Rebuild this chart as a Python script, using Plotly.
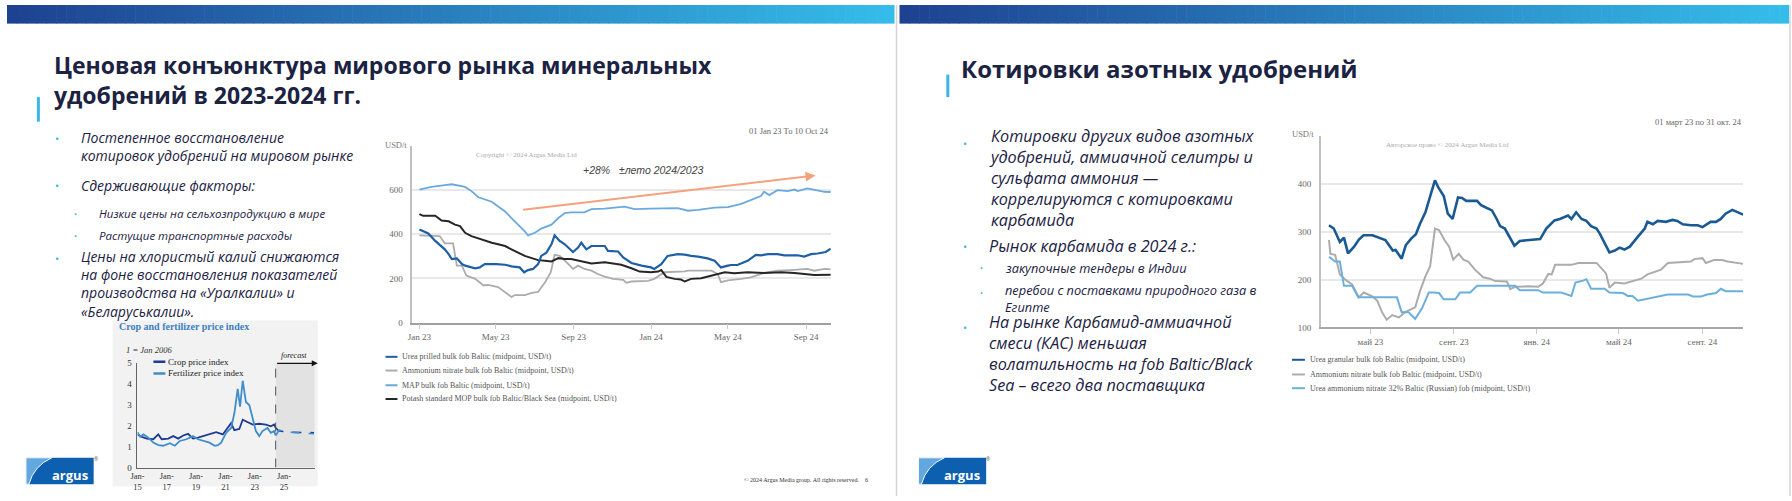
import plotly.graph_objects as go

W, H = 1792, 501

# ---------------- DATA ----------------
# Chart 1 (01 Jan 23 To 10 Oct 24), USD/t
urea_prilled_dates = ["2023-01-01","2023-01-15","2023-01-26","2023-02-10","2023-02-16","2023-02-21","2023-03-01","2023-03-09","2023-03-14","2023-03-30","2023-04-06","2023-04-14","2023-05-02","2023-05-16","2023-05-26","2023-06-08","2023-06-15","2023-06-21","2023-06-29","2023-07-07","2023-07-12","2023-07-20","2023-07-28","2023-08-02","2023-08-10","2023-08-18","2023-08-31","2023-09-08","2023-09-13","2023-09-21","2023-09-29","2023-10-20","2023-10-25","2023-11-10","2023-11-18","2023-12-01","2023-12-17","2024-01-01","2024-01-06","2024-01-17","2024-01-27","2024-02-12","2024-02-23","2024-03-04","2024-03-15","2024-03-30","2024-04-10","2024-04-20","2024-05-01","2024-05-06","2024-05-16","2024-06-01","2024-06-14","2024-06-22","2024-07-03","2024-07-18","2024-07-29","2024-08-19","2024-08-29","2024-09-09","2024-09-19","2024-10-02","2024-10-10"]
urea_prilled_vals = [422,404,370,332,310,288,291,265,258,246,250,265,265,262,255,250,228,238,243,265,302,317,355,395,370,355,320,340,362,332,347,347,325,322,295,270,258,250,243,265,302,310,308,302,299,291,280,250,258,261,261,280,307,305,310,310,305,305,299,310,313,320,335]

an1_dates = ["2023-01-01","2023-01-20","2023-02-02","2023-02-10","2023-02-23","2023-03-01","2023-03-09","2023-03-16","2023-03-30","2023-04-12","2023-04-19","2023-05-05","2023-05-16","2023-05-26","2023-05-31","2023-06-16","2023-06-27","2023-07-07","2023-07-18","2023-07-27","2023-08-02","2023-08-10","2023-08-21","2023-08-31","2023-09-08","2023-09-18","2023-09-29","2023-10-09","2023-10-20","2023-11-02","2023-11-18","2023-11-23","2023-12-01","2023-12-27","2024-01-06","2024-01-14","2024-01-22","2024-02-23","2024-02-28","2024-04-05","2024-04-15","2024-04-20","2024-05-01","2024-05-22","2024-06-06","2024-06-27","2024-07-18","2024-08-08","2024-09-03","2024-09-14","2024-09-30","2024-10-10"]
an1_vals = [395,395,392,359,359,258,258,213,198,168,171,161,139,116,124,124,134,139,183,228,307,302,273,243,258,243,235,220,208,198,194,180,186,189,198,213,228,232,235,235,220,183,191,198,205,225,235,238,243,235,243,241]

map_dates = ["2023-01-01","2023-01-20","2023-02-10","2023-02-21","2023-03-14","2023-03-24","2023-04-04","2023-04-14","2023-04-25","2023-05-05","2023-05-16","2023-05-26","2023-06-06","2023-06-16","2023-06-21","2023-07-02","2023-07-12","2023-07-23","2023-07-28","2023-08-08","2023-08-18","2023-08-28","2023-09-18","2023-09-29","2023-10-20","2023-11-20","2023-12-06","2023-12-31","2024-01-22","2024-02-12","2024-02-28","2024-03-15","2024-04-10","2024-05-01","2024-05-22","2024-06-06","2024-06-22","2024-06-27","2024-07-05","2024-07-18","2024-08-03","2024-08-14","2024-08-19","2024-09-03","2024-09-19","2024-09-30","2024-10-10"]
map_vals = [603,615,623,627,615,596,568,559,548,526,504,474,444,414,395,407,426,440,444,474,496,500,500,514,517,526,514,517,519,519,507,511,521,523,538,556,574,593,578,600,596,603,596,608,600,593,592]

potash_dates = ["2023-01-01","2023-01-07","2023-01-26","2023-02-05","2023-02-16","2023-02-26","2023-03-06","2023-03-14","2023-03-24","2023-04-04","2023-04-14","2023-04-25","2023-05-05","2023-05-16","2023-05-26","2023-06-06","2023-06-16","2023-06-27","2023-07-07","2023-07-18","2023-07-28","2023-08-08","2023-08-18","2023-08-28","2023-09-08","2023-09-18","2023-09-29","2023-10-20","2023-10-30","2023-11-15","2023-12-01","2023-12-14","2024-01-01","2024-01-12","2024-01-17","2024-01-25","2024-02-07","2024-02-17","2024-02-23","2024-03-04","2024-03-20","2024-04-10","2024-04-26","2024-05-11","2024-06-01","2024-06-27","2024-07-24","2024-08-14","2024-09-03","2024-09-14","2024-10-10"]
potash_vals = [492,484,484,463,459,444,437,407,392,381,373,362,355,347,332,317,302,292,283,280,277,292,288,288,280,273,268,273,270,262,246,231,228,231,238,207,198,195,186,198,201,216,228,223,228,225,228,225,220,216,217]

chart1_tick_dates = ["2023-01-01","2023-05-01","2023-09-01","2024-01-01","2024-05-01","2024-09-01"]
chart1_tick_text = ["Jan 23","May 23","Sep 23","Jan 24","May 24","Sep 24"]
chart1_y_ticks = [0, 200, 400, 600, 800]
chart1_y_text = ["0", "200", "400", "600", ""]
chart1_names = ["Urea prilled bulk fob Baltic (midpoint, USD/t)",
                "Ammonium nitrate bulk fob Baltic (midpoint, USD/t)",
                "MAP bulk fob Baltic (midpoint, USD/t)",
                "Potash standard MOP bulk fob Baltic/Black Sea (midpoint, USD/t)"]

# Chart 2 (01 март 23 по 31 окт. 24), USD/t
urea_gran_dates = ["2023-03-01","2023-03-08","2023-03-17","2023-03-23","2023-03-29","2023-04-07","2023-04-14","2023-04-21","2023-05-04","2023-05-13","2023-05-23","2023-06-03","2023-06-07","2023-06-16","2023-06-22","2023-06-30","2023-07-07","2023-07-13","2023-07-21","2023-08-04","2023-08-09","2023-08-17","2023-08-23","2023-08-30","2023-09-07","2023-09-13","2023-09-19","2023-10-05","2023-10-11","2023-10-18","2023-10-27","2023-11-03","2023-11-08","2023-11-15","2023-11-29","2023-12-07","2023-12-19","2024-01-06","2024-01-15","2024-01-27","2024-02-04","2024-02-16","2024-02-21","2024-02-28","2024-03-07","2024-03-14","2024-03-21","2024-03-29","2024-04-03","2024-04-10","2024-04-17","2024-04-25","2024-05-02","2024-05-09","2024-05-17","2024-05-29","2024-06-08","2024-06-12","2024-06-20","2024-06-27","2024-07-09","2024-07-19","2024-07-26","2024-08-03","2024-08-15","2024-08-25","2024-09-01","2024-09-13","2024-09-21","2024-09-28","2024-10-05","2024-10-15","2024-10-22","2024-10-31"]
urea_gran_vals = [314,307,279,288,255,269,284,293,293,288,283,261,262,244,272,286,295,317,341,408,393,375,338,327,372,371,365,365,356,351,345,327,312,307,271,281,283,285,307,324,327,334,327,341,327,323,312,307,296,276,257,261,267,263,269,290,307,321,316,323,321,325,323,316,314,314,310,321,321,327,338,346,342,336]

an2_dates = ["2023-03-01","2023-03-03","2023-03-10","2023-03-17","2023-03-25","2023-04-04","2023-04-14","2023-04-21","2023-05-04","2023-05-11","2023-05-18","2023-05-25","2023-06-02","2023-06-12","2023-06-21","2023-06-29","2023-07-06","2023-07-13","2023-07-21","2023-07-28","2023-08-04","2023-08-10","2023-08-18","2023-08-25","2023-08-31","2023-09-08","2023-09-15","2023-09-22","2023-10-02","2023-10-14","2023-10-24","2023-11-01","2023-11-18","2023-11-23","2023-11-30","2023-12-19","2024-01-03","2024-01-10","2024-01-18","2024-01-23","2024-01-28","2024-02-21","2024-03-02","2024-03-29","2024-04-05","2024-04-12","2024-04-17","2024-04-25","2024-05-09","2024-05-21","2024-06-03","2024-06-12","2024-06-25","2024-07-02","2024-07-12","2024-07-22","2024-07-31","2024-08-15","2024-08-20","2024-09-01","2024-09-06","2024-09-18","2024-09-30","2024-10-08","2024-10-31"]
an2_vals = [283,254,252,211,200,190,163,173,165,156,132,116,126,121,132,138,142,176,207,228,307,304,283,269,242,254,242,238,221,205,202,197,196,180,185,186,185,192,212,211,231,231,235,235,224,213,183,194,192,197,202,211,218,221,235,236,238,238,243,245,235,241,241,238,233]

uan_dates = ["2023-03-01","2023-03-10","2023-03-17","2023-03-23","2023-04-04","2023-04-13","2023-06-09","2023-06-16","2023-06-26","2023-07-06","2023-07-16","2023-07-26","2023-08-02","2023-08-10","2023-08-17","2023-09-03","2023-09-10","2023-09-25","2023-10-05","2023-11-30","2023-12-07","2024-01-03","2024-01-10","2024-02-06","2024-02-21","2024-02-27","2024-03-09","2024-03-14","2024-03-21","2024-04-10","2024-04-17","2024-05-07","2024-05-14","2024-05-21","2024-05-29","2024-06-12","2024-06-27","2024-07-02","2024-07-12","2024-08-11","2024-08-18","2024-08-30","2024-09-08","2024-09-21","2024-09-28","2024-10-05","2024-10-31"]
uan_vals = [248,238,238,187,187,163,163,132,132,118,140,173,173,172,159,159,173,173,187,187,178,178,173,173,166,194,198,201,181,181,173,172,166,166,156,160,165,166,169,169,165,165,169,172,181,176,176]

chart2_tick_dates = ["2023-05-01","2023-09-01","2024-01-01","2024-05-01","2024-09-01"]
chart2_tick_text = ["май 23","сент. 23","янв. 24","май 24","сент. 24"]
chart2_y_ticks = [100, 200, 300, 400, 500]
chart2_y_text = ["100", "200", "300", "400", ""]
chart2_names = ["Urea granular bulk fob Baltic (midpoint, USD/t)",
                "Ammonium nitrate bulk fob Baltic (midpoint, USD/t)",
                "Urea ammonium nitrate 32% Baltic (Russian) fob (midpoint, USD/t)"]

# Chart 3: Crop and fertilizer price index (1 = Jan 2006), decimal years
crop_years = [2015.0,2015.3,2015.63,2016.08,2016.42,2016.65,2017.1,2017.44,2017.78,2018.12,2018.45,2018.79,2019.13,2019.47,2019.92,2020.37,2020.82,2021.16,2021.39,2021.61,2021.95,2022.18,2022.52,2022.86,2023.31,2023.76,2024.1,2024.32,2024.43]
crop_vals = [1.58,1.46,1.38,1.35,1.58,1.35,1.38,1.50,1.38,1.53,1.61,1.38,1.43,1.50,1.58,1.69,1.58,1.89,2.12,1.78,1.84,2.28,2.16,2.05,2.09,2.05,1.97,2.05,1.89]
crop_fc_years = [2024.43,2024.66,2025.34,2026.24,2027.05]
crop_fc_vals = [1.89,1.74,1.69,1.66,1.66]
fert_years = [2015.0,2015.18,2015.41,2015.74,2016.08,2016.42,2016.76,2017.21,2017.55,2017.89,2018.34,2018.79,2019.13,2019.47,2019.92,2020.26,2020.49,2020.71,2021.05,2021.39,2021.61,2021.84,2022.0,2022.18,2022.4,2022.63,2022.86,2023.08,2023.31,2023.53,2023.87,2024.1,2024.32,2024.43]
fert_vals = [1.69,1.47,1.58,1.43,1.19,1.07,1.04,1.16,1.04,1.27,1.35,1.50,1.35,1.27,1.19,1.04,1.07,1.19,1.66,1.89,2.59,3.75,2.90,4.14,3.13,2.98,2.28,1.74,1.50,1.74,1.89,1.66,1.74,1.53]
fert_fc_years = [2024.43,2024.66,2025.34,2026.24,2027.05]
fert_fc_vals = [1.53,1.78,1.69,1.66,1.61]
forecast_start = 2024.43
chart3_tick_years = [2015, 2017, 2019, 2021, 2023, 2025]
chart3_tick_text = ["Jan-<br>15","Jan-<br>17","Jan-<br>19","Jan-<br>21","Jan-<br>23","Jan-<br>25"]

# ---------------- STYLE ----------------
C_UREA1, C_AN, C_MAP, C_POT = "#1f5fa6", "#acacac", "#6aa9de", "#262626"
C_UREA2, C_UAN = "#1a5a94", "#6bb0dc"
C_CROP, C_FERT = "#1f3c92", "#3f8dcb"
SERIF = "Liberation Serif"
SANS = "Open Sans"
NAVY = "#1b2242"
CYAN = "#38b6e8"

def X(p): return p / W
def Y(p): return 1 - p / H

fig = go.Figure()

for xs, ys, c, w, n in [(an1_dates, an1_vals, C_AN, 1.8, chart1_names[1]),
                        (map_dates, map_vals, C_MAP, 1.8, chart1_names[2]),
                        (potash_dates, potash_vals, C_POT, 2.0, chart1_names[3]),
                        (urea_prilled_dates, urea_prilled_vals, C_UREA1, 2.2, chart1_names[0])]:
    fig.add_trace(go.Scatter(x=xs, y=ys, mode="lines", line=dict(color=c, width=w),
                             name=n, xaxis="x", yaxis="y", showlegend=False))
for xs, ys, c, w, n in [(an2_dates, an2_vals, C_AN, 2.0, chart2_names[1]),
                        (uan_dates, uan_vals, C_UAN, 2.0, chart2_names[2]),
                        (urea_gran_dates, urea_gran_vals, C_UREA2, 2.6, chart2_names[0])]:
    fig.add_trace(go.Scatter(x=xs, y=ys, mode="lines", line=dict(color=c, width=w),
                             name=n, xaxis="x2", yaxis="y2", showlegend=False))
fig.add_trace(go.Scatter(x=crop_years, y=crop_vals, mode="lines", line=dict(color=C_CROP, width=1.8),
                         name="Crop price index", xaxis="x3", yaxis="y3", showlegend=False))
fig.add_trace(go.Scatter(x=fert_years, y=fert_vals, mode="lines", line=dict(color=C_FERT, width=1.8),
                         name="Fertilizer price index", xaxis="x3", yaxis="y3", showlegend=False))
fig.add_trace(go.Scatter(x=crop_fc_years, y=crop_fc_vals, mode="lines", line=dict(color=C_CROP, width=1.6, dash="dash"),
                         xaxis="x3", yaxis="y3", showlegend=False))
fig.add_trace(go.Scatter(x=fert_fc_years, y=fert_fc_vals, mode="lines", line=dict(color=C_FERT, width=1.6, dash="dash"),
                         xaxis="x3", yaxis="y3", showlegend=False))

tickfont = dict(family=SERIF, size=9, color="#666")
fig.update_layout(
    width=W, height=H, margin=dict(l=0, r=0, t=0, b=0),
    paper_bgcolor="white", plot_bgcolor="rgba(0,0,0,0)", showlegend=False,
    xaxis=dict(domain=[X(407), X(827)], range=["2022-12-21", "2024-10-10"], anchor="y",
               tickvals=chart1_tick_dates, ticktext=chart1_tick_text, tickfont=tickfont,
               showgrid=False, showline=True, linecolor="#a0a0a0", linewidth=1.5,
               ticks="outside", ticklen=5, tickcolor="#c8c8c8", zeroline=False),
    yaxis=dict(domain=[Y(324), Y(144)], range=[0, 800], anchor="x",
               tickvals=chart1_y_ticks, ticktext=chart1_y_text, tickfont=tickfont,
               showgrid=True, gridcolor="#e8e8e8", gridwidth=1.5, showline=True,
               linecolor="#c0c0c0", linewidth=1.5, zeroline=False, ticklabelstandoff=6),
    xaxis2=dict(domain=[X(1319), X(1743)], range=["2023-02-17", "2024-10-31"], anchor="y2",
                tickvals=chart2_tick_dates, ticktext=chart2_tick_text, tickfont=tickfont,
                showgrid=False, showline=True, linecolor="#a8a8a8", linewidth=1.5,
                ticks="outside", ticklen=5, tickcolor="#c8c8c8", zeroline=False),
    yaxis2=dict(domain=[Y(329), Y(134)], range=[100, 500], anchor="x2",
                tickvals=chart2_y_ticks, ticktext=chart2_y_text, tickfont=tickfont,
                showgrid=True, gridcolor="#e8e8e8", gridwidth=1.5, showline=True,
                linecolor="#c0c0c0", linewidth=1.5, zeroline=False, ticklabelstandoff=6),
    xaxis3=dict(domain=[X(131), X(309)], range=[2015, 2027.1], anchor="y3",
                tickvals=chart3_tick_years, ticktext=chart3_tick_text,
                tickfont=dict(family=SERIF, size=8.5, color="#333"),
                showgrid=False, showline=True, linecolor="#666", linewidth=1,
                ticks="", zeroline=False, ticklabelstandoff=0),
    yaxis3=dict(domain=[Y(472), Y(365)], range=[0, 5], anchor="x3",
                tickvals=[0, 1, 2, 3, 4, 5], tickfont=dict(family=SERIF, size=9, color="#333"),
                showgrid=False, showline=True, linecolor="#666", linewidth=1,
                zeroline=False, ticklabelstandoff=3),
)

shapes = []
def grad(x0, x1, n=90):
    c0, c1 = (30, 66, 145), (52, 188, 234)
    for i in range(n):
        t = i / (n - 1)
        col = "rgb(%d,%d,%d)" % tuple(round(a + (b - a) * t) for a, b in zip(c0, c1))
        xa = x0 + (x1 - x0) * i / n
        xb = x0 + (x1 - x0) * (i + 1) / n + 0.6
        shapes.append(dict(type="rect", xref="paper", yref="paper", x0=X(xa), x1=X(min(xb, x1)),
                           y0=Y(19), y1=Y(0), fillcolor=col, line=dict(width=0), layer="below"))
grad(0, 891)
grad(896, 1789)
for xx in (893, 1790):
    shapes.append(dict(type="line", xref="paper", yref="paper", x0=X(xx), x1=X(xx), y0=0, y1=1,
                       line=dict(color="#d4d4d4", width=1.5)))
shapes.append(dict(type="rect", xref="paper", yref="paper", x0=X(30), x1=X(33), y0=Y(119), y1=Y(94),
                   fillcolor=CYAN, line=dict(width=0)))
shapes.append(dict(type="rect", xref="paper", yref="paper", x0=X(943), x1=X(946), y0=Y(94), y1=Y(71),
                   fillcolor=CYAN, line=dict(width=0)))
shapes.append(dict(type="rect", xref="paper", yref="paper", x0=X(106), x1=X(312), y0=Y(491), y1=Y(322),
                   fillcolor="#f2f2f2", line=dict(width=0), layer="below"))
shapes.append(dict(type="rect", xref="x3", yref="y3", x0=forecast_start, x1=2027.1, y0=0, y1=5,
                   fillcolor="#e2e2e2", line=dict(width=0), layer="below"))
shapes.append(dict(type="line", xref="x3", yref="y3", x0=forecast_start, x1=forecast_start, y0=0, y1=5,
                   line=dict(color="#555", width=1, dash="dash")))

def swatch(x0, x1, y, color, w=2):
    shapes.append(dict(type="line", xref="paper", yref="paper", x0=X(x0), x1=X(x1), y0=Y(y), y1=Y(y),
                       line=dict(color=color, width=w)))
for yy, c in zip([359, 373, 388, 402], [C_UREA1, C_AN, C_MAP, C_POT]):
    swatch(380, 392, yy, c)
for yy, c in zip([362, 377, 391], [C_UREA2, C_AN, C_UAN]):
    swatch(1290, 1303, yy, c)
swatch(147, 159, 364, C_CROP, 2.5)
swatch(147, 159, 376, C_FERT, 2.5)

def logo(x0, y0):
    x1, y1 = x0 + 68, y0 + 27
    shapes.append(dict(type="rect", xref="paper", yref="paper", x0=X(x0), x1=X(x1), y0=Y(y1), y1=Y(y0),
                       fillcolor="#0d5fb0", line=dict(width=0)))
    path = "M %f,%f L %f,%f Q %f,%f %f,%f L %f,%f Z" % (
        X(x0), Y(y0), X(x0 + 26), Y(y0), X(x0 + 8), Y(y0 + 8), X(x0 + 3), Y(y1), X(x0), Y(y1))
    shapes.append(dict(type="path", xref="paper", yref="paper", path=path,
                       fillcolor="#62a8df", line=dict(color="white", width=1)))
logo(19, 462)
logo(915, 462)

fig.update_layout(shapes=shapes)

def ann(x, y, text, size, color=NAVY, family=SANS, xanchor="left", yanchor="middle",
        weight="normal", style="normal"):
    fig.add_annotation(x=X(x), y=Y(y), xref="paper", yref="paper", text=text, showarrow=False,
                       xanchor=xanchor, yanchor=yanchor, align="left", borderpad=0,
                       font=dict(family=family, size=size, color=color, weight=weight, style=style))

def para(x, y_first, y_last, lines, size, **kw):
    ann(x, (y_first + y_last) / 2, "<br>".join(lines), size, **kw)

def dot(x, y, size):
    ann(x, y, "•", size, color=CYAN, xanchor="center")

# titles
para(46, 63, 91, ["Ценовая конъюнктура мирового рынка минеральных", "удобрений в 2023-2024 гг."], 23, weight="bold")
ann(957, 65, "Котировки азотных удобрений", 24, weight="bold")

# slide 1 bullets
para(73, 136, 153, ["Постепенное восстановление", "котировок удобрений на мировом рынке"], 14, style="italic")
ann(73, 184, "Сдерживающие факторы:", 14, style="italic")
ann(91, 213, "Низкие цены на сельхозпродукцию в мире", 11.5, style="italic")
ann(91, 235, "Растущие транспортные расходы", 11.5, style="italic")
para(73, 259, 310, ["Цены на хлористый калий снижаются", "на фоне восстановления показателей",
                    "производства на «Уралкалии» и", "«Беларуськалии»."], 14, style="italic")
for y in (136, 184, 259):
    dot(50, y, 11)
for y in (213, 235):
    dot(69, y, 8)

# slide 2 bullets
para(985, 141, 213, ["Котировки других видов азотных", "удобрений, аммиачной селитры и",
                     "сульфата аммония —", "коррелируются с котировками", "карбамида"], 16.2, style="italic")
ann(985, 246, "Рынок карбамида в 2024 г.:", 16.2, style="italic")
ann(1001, 268, "закупочные тендеры в Индии", 12.8, style="italic")
para(1001, 293, 306, ["перебои с поставками природного газа в", "Египте"], 12.8, style="italic")
para(985, 329, 382, ["На рынке Карбамид-аммиачной", "смеси (КАС) меньшая",
                     "волатильность на fob Baltic/Black", "Sea – всего два поставщика"], 16.2, style="italic")
for y in (141, 246, 329):
    dot(962, y, 11)
for y in (268, 293):
    dot(978, y, 8)

# chart 1 texts
ann(826, 129, "01 Jan 23 To 10 Oct 24", 8.5, color="#666", family=SERIF, xanchor="right")
ann(378, 143, "USD/t", 8.5, color="#777", family=SERIF)
ann(470, 153, "Copyright © 2024 Argus Media Ltd", 7, color="#aaa", family=SERIF)
ann(577, 168, "+28%   ±лето 2024/2023", 10.5, color="#444", family="Liberation Sans", style="italic")
fig.add_annotation(x="2024-09-16", y=667, ax="2023-06-11", ay=511, xref="x", yref="y",
                   axref="x", ayref="y", showarrow=True, arrowhead=2, arrowsize=1,
                   arrowwidth=2, arrowcolor="#f4a27e", text="")
for y, t in zip([359, 373, 388, 402], chart1_names):
    ann(396, y, t, 8, color="#555", family=SERIF)

# chart 2 texts
ann(1743, 119, "01 март 23 по 31 окт. 24", 8.5, color="#666", family=SERIF, xanchor="right")
ann(1289, 132, "USD/t", 8.5, color="#777", family=SERIF)
ann(1383, 143, "Авторское право © 2024 Argus Media Ltd", 7, color="#aaa", family=SERIF)
for y, t in zip([362, 377, 391], chart2_names):
    ann(1307, y, t, 8, color="#555", family=SERIF)

# chart 3 texts
ann(111, 328, "Crop and fertilizer price index", 10, color="#3d7fc1", family=SERIF, weight="bold")
ann(118, 352, "1 = Jan 2006", 8.5, color="#333", family=SERIF, style="italic")
ann(161, 364, "Crop price index", 9, color="#222", family=SERIF)
ann(161, 376, "Fertilizer price index", 9, color="#222", family=SERIF)
ann(288, 358, "forecast", 8, color="#222", family=SERIF, xanchor="center", style="italic")
fig.add_annotation(x=2027.3, y=4.97, ax=forecast_start, ay=4.97, xref="x3", yref="y3",
                   axref="x3", ayref="y3", showarrow=True, arrowhead=2, arrowsize=1,
                   arrowwidth=1.2, arrowcolor="#111", text="")

# logos text and footer
ann(63, 480, "argus", 13, color="white", family="Open Sans", xanchor="center", weight="bold")
ann(959, 480, "argus", 13, color="white", family="Open Sans", xanchor="center", weight="bold")
ann(89, 463, "®", 5, color="#555", xanchor="center")
ann(985, 463, "®", 5, color="#555", xanchor="center")
ann(865, 485, "© 2024 Argus Media group. All rights reserved.    6", 6, color="#333",
    family="Liberation Sans Narrow", xanchor="right")

fig.write_html("out.html", config={"displayModeBar": False},
               post_script="document.body.style.margin='0';document.body.style.overflow='hidden';")
